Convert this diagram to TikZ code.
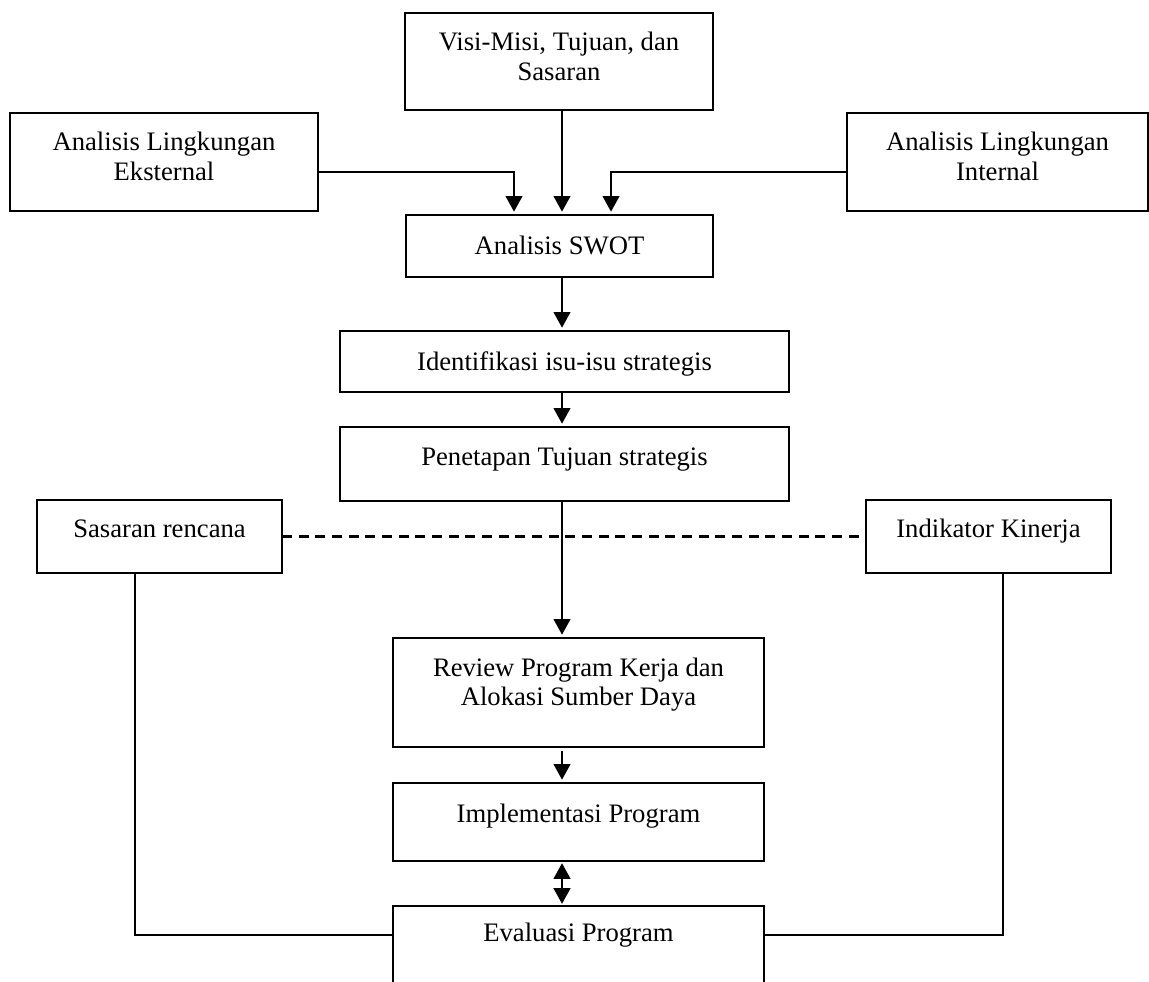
\documentclass[tikz,border=0pt]{standalone}
\usepackage{fontspec}
\setmainfont{Liberation Serif}
\usetikzlibrary{arrows.meta}
\tikzset{
  box/.style={draw,line width=0.9pt,inner sep=0pt,outer sep=0pt,align=center,
    font=\fontsize{12}{13.3}\selectfont},
  arr/.style={-{Triangle[length=7pt,width=7.5pt]},line width=0.8pt,shorten >=1.5pt},
  dbl/.style={{Triangle[length=7pt,width=7.5pt]}-{Triangle[length=7pt,width=7.5pt]},
    line width=0.8pt,shorten >=1pt,shorten <=1pt},
  link/.style={line width=0.8pt},
}
\begin{document}
\begin{tikzpicture}[x=0.45pt,y=-0.45pt]
\useasboundingbox (0,0) rectangle (1149,981);
\clip (0,0) rectangle (1149,981);
% top row
\node[box,minimum width=138.6pt,minimum height=43.65pt,text depth=4.6pt] (visi) at (559,61.5) {Visi-Misi, Tujuan, dan\\Sasaran};
\node[box,minimum width=138.6pt,minimum height=44.1pt,text depth=5pt] (eks) at (164,162) {Analisis Lingkungan\\Eksternal};
\node[box,minimum width=135.45pt,minimum height=44.1pt,text depth=5pt] (int) at (997.5,162) {Analisis Lingkungan\\Internal};
% main column
\node[box,minimum width=138.15pt,minimum height=27.9pt,text height=11pt,text depth=3pt] (swot) at (559.5,246) {Analisis SWOT};
\node[box,minimum width=202.05pt,minimum height=27.45pt,text height=11pt,text depth=3pt] (iden) at (564.5,361.5) {Identifikasi isu-isu strategis};
\node[box,minimum width=202.05pt,minimum height=33.3pt,text height=11pt,text depth=9.3pt] (pen) at (564.5,464) {Penetapan Tujuan strategis};
\node[box,minimum width=110.25pt,minimum height=32.85pt,text height=11pt,text depth=10.2pt] (sas) at (159.5,536.5) {Sasaran rencana};
\node[box,minimum width=110.25pt,minimum height=32.85pt,text height=11pt,text depth=10.2pt] (ind) at (988.5,536.5) {Indikator Kinerja};
\node[box,minimum width=166.95pt,minimum height=49.05pt,text depth=9.8pt] (rev) at (578.5,692.5) {Review Program Kerja dan\\Alokasi Sumber Daya};
\node[box,minimum width=166.95pt,minimum height=35.1pt,text height=11pt,text depth=11pt] (imp) at (578.5,822) {Implementasi Program};
\node[box,minimum width=166.95pt,minimum height=35.1pt,text height=11pt,text depth=13.8pt] (eva) at (578.5,945) {Evaluasi Program};
\coordinate (axis) at (562,0);
% arrows
\draw[arr] (visi.south -| axis) -- (swot.north -| axis);
\draw[arr] (eks.east |- 0,172) -| (swot.north -| 514,0);
\draw[arr] (int.west |- 0,172) -| (swot.north -| 611,0);
\draw[arr] (swot.south -| axis) -- (iden.north -| axis);
\draw[arr] (iden.south -| axis) -- (pen.north -| axis);
\draw[arr] (pen.south -| axis) -- (rev.north -| axis);
\draw[arr,shorten <=2pt] (rev.south -| axis) -- (imp.north -| axis);
\draw[dbl] (imp.south -| axis) -- (eva.north -| axis);
\draw[link,line width=1pt,dash pattern=on 4.5pt off 3pt] (sas.east) -- (ind.west);
% feedback
\draw[link] (sas.south -| 135,0) |- (eva.west |- 0,935);
\draw[link] (ind.south -| 1003,0) |- (eva.east |- 0,935);
\end{tikzpicture}
\end{document}
